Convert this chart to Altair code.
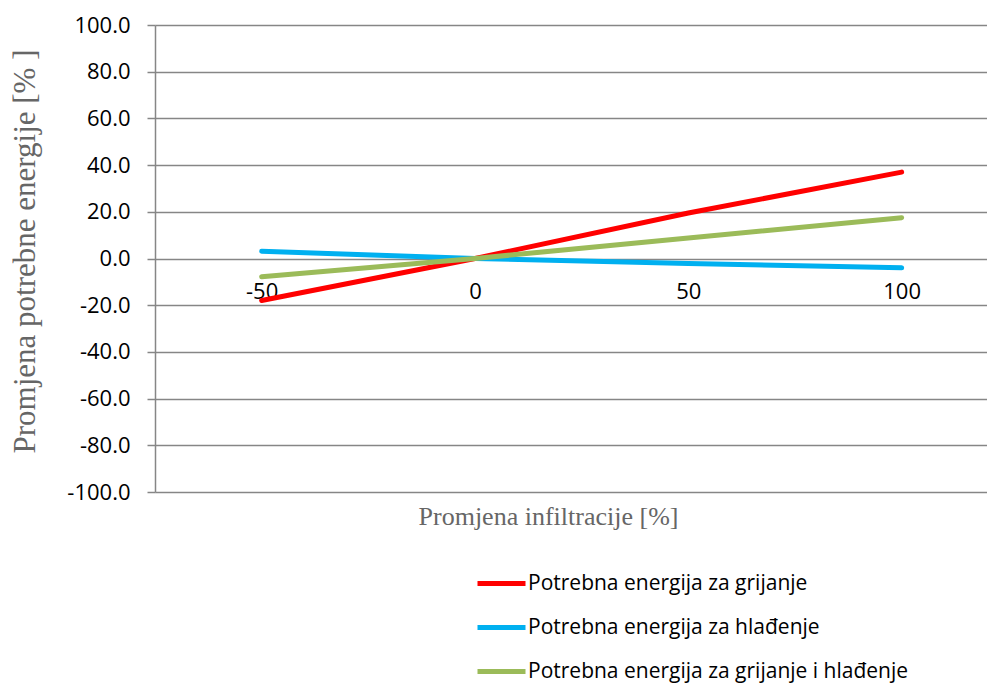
import altair as alt
import pandas as pd

x_vals = [-50, 0, 50, 100]
heating = [-18.0, 0.0, 19.5, 37.0]
cooling = [3.1, 0.0, -2.1, -4.0]
combined = [-7.8, 0.0, 8.8, 17.5]

series_names = [
    "Potrebna energija za grijanje",
    "Potrebna energija za hlađenje",
    "Potrebna energija za grijanje i hlađenje",
]
series_colors = ["#FF0000", "#00B0F0", "#9BBB59"]
y_ticks = [-100, -80, -60, -40, -20, 0, 20, 40, 60, 80, 100]

rows = []
for name, vals in zip(series_names, [heating, cooling, combined]):
    for xv, yv in zip(x_vals, vals):
        rows.append({"x": xv, "y": yv, "s": name})
df = pd.DataFrame(rows)

W, H = 832, 467
MINUS = "\u2212"

chart = alt.Chart(df).mark_line(strokeWidth=5, strokeCap="round").encode(
    x=alt.X(
        "x:Q",
        scale=alt.Scale(domain=[-75, 120], nice=False, zero=False),
        axis=alt.Axis(
            values=x_vals,
            orient="bottom",
            offset=-H / 2,
            domain=False,
            ticks=False,
            grid=False,
            labelExpr=f"replace(datum.label, '{MINUS}', '-')",
            labelFont="Open Sans",
            labelFontSize=22,
            labelColor="#000000",
            labelPadding=23,
            title="Promjena infiltracije  [%]",
            titleFont="Liberation Serif",
            titleFontSize=26,
            titleFontWeight="normal",
            titleColor="#666666",
            titleX=393,
            titleY=258,
            titleAlign="center",
            titleBaseline="middle",
        ),
    ),
    y=alt.Y(
        "y:Q",
        scale=alt.Scale(domain=[-100, 100], nice=False),
        axis=alt.Axis(
            values=y_ticks,
            format=".1f",
            labelExpr=f"replace(datum.label, '{MINUS}', '-')",
            domain=True,
            domainColor="#868686",
            domainWidth=1.5,
            grid=True,
            gridColor="#868686",
            gridWidth=1.5,
            ticks=True,
            tickSize=8,
            tickColor="#868686",
            tickWidth=1.5,
            labelFont="Open Sans",
            labelFontSize=22,
            labelColor="#000000",
            labelPadding=17,
            title="Promjena potrebne energije [% ]",
            titleFont="Liberation Serif",
            titleFontSize=31,
            titleFontWeight="normal",
            titleColor="#666666",
            titleX=-130,
            titleY=226,
            titleAngle=270,
            titleAlign="center",
            titleBaseline="middle",
        ),
    ),
    color=alt.Color(
        "s:N",
        scale=alt.Scale(domain=series_names, range=series_colors),
        legend=alt.Legend(
            title=None,
            orient="none",
            legendX=320,
            legendY=532,
            direction="vertical",
            symbolType="stroke",
            symbolSize=2304,
            symbolStrokeWidth=5,
            labelFont="Open Sans",
            labelFontSize=21,
            labelColor="#000000",
            labelOffset=0,
            rowPadding=7,
            labelLimit=600,
        ),
    ),
    order=alt.Order("x:Q"),
).properties(
    width=W,
    height=H,
    autosize=alt.AutoSizeParams(type="none"),
    padding={"left": 147, "top": 17, "right": 0, "bottom": 196},
).configure_view(stroke=None)

chart.save("out.html", embed_options={"renderer": "svg", "actions": False})
